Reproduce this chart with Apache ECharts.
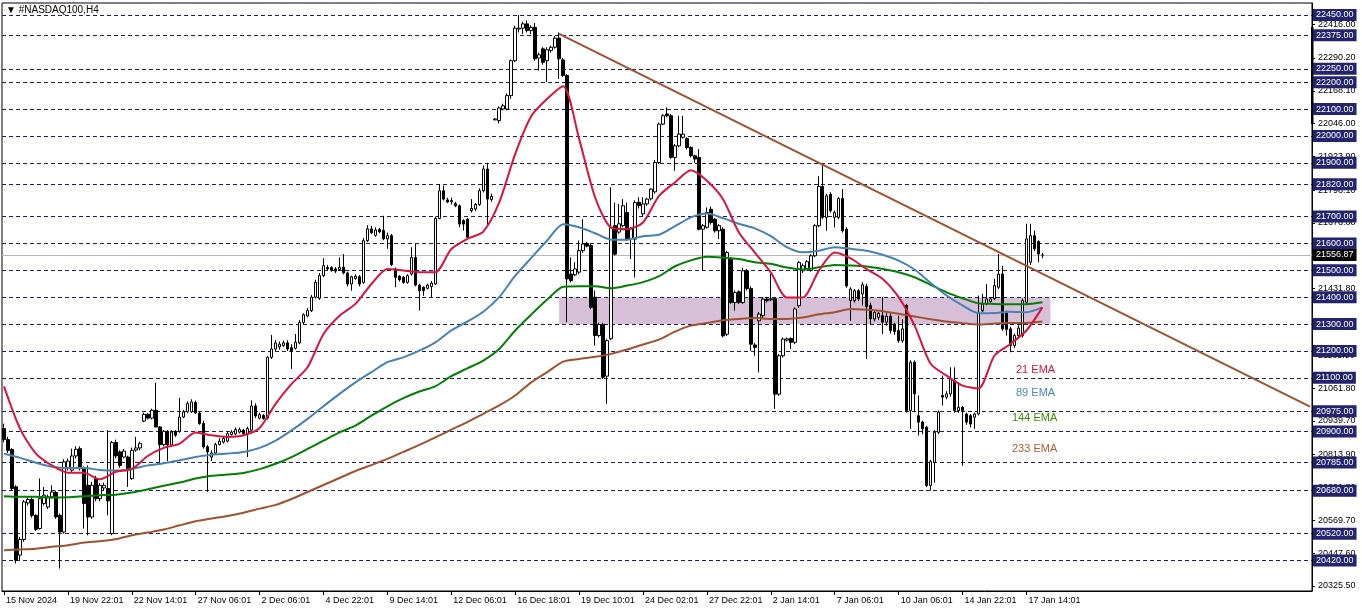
<!DOCTYPE html>
<html><head><meta charset="utf-8">
<script src="https://cdn.jsdelivr.net/npm/echarts@6/dist/echarts.min.js"></script>
<style>html,body{margin:0;padding:0;background:#fff}#c{width:1362px;height:611px}</style>
</head><body><div id="c"></div>
<script>
// ---- tick labels (every 16 bars) ----
const tickLabels = ["15 Nov 2024","19 Nov 22:01","22 Nov 14:01","27 Nov 06:01","2 Dec 06:01","4 Dec 22:01","9 Dec 14:01","12 Dec 06:01","16 Dec 18:01","19 Dec 10:01","24 Dec 02:01","27 Dec 22:01","2 Jan 14:01","7 Jan 06:01","10 Jan 06:01","14 Jan 22:01","17 Jan 14:01"];
const tickEvery = 16;
const barSlots = 328;

// ---- OHLC (H4 bars) ----
const opens = [20911,20870,20833,20694,20440,20498,20634,20647,20588,20539,20632,20619,20657,20673,20588,20526,20762,20756,20809,20836,
20762,20700,20582,20725,20650,20690,20688,20520,20859,20824,20805,20805,20725,20831,20839,20939,20964,20950,20979,20917,
20851,20901,20850,20901,20901,20954,20973,20973,21008,20969,20930,20843,20805,20820,20852,20861,20864,20889,20891,20898,
20905,20892,20905,20995,20950,20960,20950,21176,21207,21215,21220,21230,21212,21210,21230,21306,21330,21350,21400,21396,
21480,21510,21510,21505,21503,21512,21490,21449,21470,21476,21455,21610,21654,21630,21652,21648,21617,21629,21505,21478,
21474,21455,21486,21548,21445,21437,21433,21440,21449,21693,21796,21762,21755,21748,21740,21685,21690,21722,21728,21745,
21796,21877,21763,22060,22057,22100,22100,22150,22280,22398,22401,22417,22392,22404,22290,22324,22280,22318,22330,22364,
22283,22225,21486,21483,21493,21573,21600,21592,21400,21257,21298,21106,21245,21666,21642,21666,21715,21617,21616,21753,
21710,21747,21766,21792,21901,22044,22082,22075,21920,21963,21995,21990,21957,21926,21920,21653,21660,21727,21690,21647,
21653,21262,21542,21380,21420,21380,21498,21432,21222,21312,21331,21393,21390,21394,21039,21182,21240,21246,21232,21368,
21498,21504,21500,21554,21666,21812,21697,21783,21697,21697,21767,21653,21387,21387,21424,21412,21440,21369,21319,21325,
21331,21307,21329,21300,21276,21238,21369,20978,21158,20959,20935,20916,20699,20785,20897,21034,21028,21040,21090,20978,
20990,20965,20959,20953,20965,21350,21375,21384,21394,21437,21486,21344,21282,21220,21257,21257,21381,21530,21629,21607,
21557];
const highs = [20929,20880,20838,20700,20508,20645,20655,20655,20592,20725,20694,20665,20700,20680,20595,20797,20800,20836,20845,20845,
20770,20774,20712,20735,20708,20710,20905,20865,20870,20830,20835,20810,20840,20880,20862,20970,20968,20985,21082,20920,
20905,20905,20905,20905,21025,20980,21012,21020,21015,20975,20940,20850,20830,20858,20875,20880,20900,20905,20915,20915,
20910,20918,21016,21005,20970,20965,21180,21259,21240,21235,21238,21240,21225,21263,21315,21340,21360,21408,21465,21490,
21545,21520,21515,21512,21548,21560,21495,21480,21485,21482,21620,21668,21665,21660,21658,21703,21640,21635,21510,21482,
21478,21485,21586,21598,21450,21440,21450,21460,21700,21821,21815,21770,21770,21755,21745,21690,21695,21765,21750,21805,
21890,21900,21785,22066,22110,22120,22158,22285,22410,22450,22425,22430,22412,22420,22310,22330,22330,22336,22372,22385,
22290,22230,21548,21530,21611,21690,21605,21600,21425,21305,21305,21245,21809,21752,21747,21765,21752,21660,21760,21772,
21772,21770,21805,21910,22050,22082,22106,22082,21970,22075,22075,21995,21962,21930,21951,21672,21734,21737,21695,21672,
21660,21572,21548,21425,21425,21510,21505,21440,21230,21345,21400,21400,21486,21400,21188,21250,21250,21250,21362,21535,
21525,21538,21560,21672,21850,21895,21785,21790,21722,21773,21802,21660,21437,21430,21430,21456,21450,21380,21350,21345,
21400,21340,21340,21305,21331,21319,21375,21165,21165,21034,20940,20920,20795,20905,20978,21108,21050,21139,21139,21083,
20995,20970,20965,20970,21406,21412,21449,21400,21468,21561,21517,21350,21290,21265,21295,21395,21673,21673,21648,21612,
21565];
const lows = [20860,20820,20682,20409,20421,20490,20625,20580,20530,20535,20625,20612,20650,20575,20390,20520,20755,20750,20800,20755,
20539,20514,20575,20640,20640,20680,20588,20514,20800,20765,20800,20694,20720,20825,20830,20935,20945,20945,20915,20787,
20845,20790,20845,20880,20895,20950,20968,20970,20965,20925,20836,20675,20790,20815,20848,20855,20860,20885,20885,20893,
20888,20805,20900,20950,20945,20944,20945,21170,21200,21205,21215,21200,21133,21205,21225,21300,21325,21345,21395,21390,
21475,21500,21495,21490,21498,21485,21440,21424,21465,21440,21450,21605,21635,21625,21638,21612,21580,21515,21437,21458,
21450,21450,21480,21440,21350,21405,21428,21400,21445,21690,21760,21750,21745,21735,21660,21648,21618,21715,21720,21740,
21790,21666,21755,22058,22047,22095,22095,22138,22275,22385,22380,22385,22380,22280,22243,22265,22200,22310,22325,22212,
22220,21307,21455,21478,21485,21565,21585,21355,21220,21250,21095,21003,21240,21555,21636,21660,21610,21542,21473,21730,
21700,21740,21760,21785,21895,22040,22070,21915,21870,21958,21990,21950,21920,21900,21648,21498,21655,21670,21640,21616,
21250,21255,21375,21350,21375,21375,21425,21200,21182,21120,21320,21380,21385,20984,21033,21175,21235,21207,21225,21360,
21490,21500,21495,21548,21660,21690,21647,21715,21660,21690,21640,21435,21312,21380,21385,21369,21170,21300,21310,21315,
21263,21294,21265,21260,21230,21230,20970,20910,20972,20885,20890,20693,20680,20710,20890,20997,21020,21030,20970,20970,
20773,20925,20915,20910,20960,21345,21370,21380,21390,21430,21275,21257,21195,21210,21250,21250,21375,21520,21572,21530,
21545];
const closes = [20870,20830,20688,20421,20498,20638,20647,20588,20536,20650,20663,20657,20675,20582,20526,20787,20790,20809,20834,20762,
20632,20582,20700,20650,20700,20700,20642,20859,20809,20774,20827,20762,20830,20839,20855,20964,20950,20979,20917,20851,
20901,20851,20898,20886,20954,20973,21004,21010,20969,20930,20843,20824,20820,20852,20864,20874,20892,20898,20907,20907,
20892,20911,20995,20958,20963,20948,21176,21207,21230,21225,21230,21207,21200,21232,21306,21335,21350,21400,21455,21480,
21517,21505,21500,21497,21511,21490,21449,21476,21478,21449,21610,21654,21640,21650,21643,21617,21629,21521,21474,21465,
21455,21480,21548,21445,21424,21424,21445,21452,21693,21796,21765,21754,21760,21740,21672,21672,21623,21730,21745,21796,
21877,21765,21775,22063,22104,22112,22150,22280,22401,22401,22417,22392,22404,22287,22302,22274,22321,22330,22364,22287,
22225,21468,21462,21505,21573,21598,21590,21362,21257,21298,21102,21238,21660,21560,21673,21740,21616,21654,21752,21741,
21747,21765,21802,21901,22044,22075,22075,21920,21963,22007,22007,21957,21926,21914,21653,21666,21715,21678,21647,21666,
21256,21566,21380,21417,21380,21498,21432,21225,21213,21337,21393,21387,21394,21039,21182,21244,21245,21232,21356,21529,
21517,21532,21554,21666,21812,21697,21777,21722,21715,21767,21647,21442,21430,21424,21393,21446,21365,21319,21344,21340,
21307,21329,21276,21272,21238,21282,20978,21158,21040,20935,20910,20699,20788,20897,20972,21028,21040,21096,20978,20990,
20978,20935,20928,20965,21344,21375,21393,21394,21443,21486,21282,21280,21220,21257,21285,21387,21617,21629,21580,21561,
21556.87];

// ---- EMAs, read every 4th bar ----
const emaStep = 4;
const ema21 = [21068,20911,20818,20774,20747,20747,20722,20750,20760,20809,20839,20855,20896,20886,20880,20886,20913,21003,21077,21139,
21263,21331,21375,21449,21505,21499,21493,21493,21579,21617,21644,21753,21933,22073,22138,22185,21989,21771,21659,21653,
21678,21777,21827,21872,21833,21765,21641,21566,21492,21399,21399,21498,21566,21544,21504,21468,21400,21294,21152,21108,
21071,21060,21183,21226,21276,21362];
const ema89 = [20817,20802,20784,20769,20764,20764,20757,20755,20761,20774,20782,20793,20805,20814,20818,20824,20839,20866,20904,20947,
20994,21040,21083,21121,21158,21176,21201,21232,21276,21309,21346,21400,21480,21546,21611,21671,21660,21638,21614,21614,
21627,21632,21664,21697,21711,21694,21673,21656,21627,21586,21567,21573,21586,21580,21573,21558,21536,21503,21453,21406,
21369,21340,21341,21346,21344,21362];
const ema144 = [20659,20657,20657,20654,20655,20659,20663,20665,20673,20685,20698,20710,20725,20735,20740,20746,20760,20780,20805,20835,
20866,20897,20922,20959,20994,21024,21049,21068,21106,21135,21164,21207,21276,21335,21391,21439,21441,21441,21433,21443,
21456,21478,21515,21537,21550,21547,21542,21530,21524,21510,21503,21511,21520,21518,21514,21505,21493,21474,21446,21418,
21396,21377,21375,21374,21374,21381];
const ema233 = [20458,20461,20464,20471,20477,20487,20492,20499,20514,20524,20535,20551,20566,20576,20586,20598,20613,20627,20649,20675,
20701,20727,20753,20775,20798,20824,20850,20878,20907,20935,20966,20997,21034,21083,21121,21160,21170,21178,21189,21205,
21224,21242,21272,21294,21304,21314,21319,21322,21319,21319,21324,21336,21344,21356,21353,21348,21338,21328,21318,21309,
21303,21298,21302,21304,21304,21309];

// ---- levels / annotations ----
const levels = [22450,22375,22250,22200,22100,22000,21900,21820,21700,21600,21500,21400,21300,21200,21100,20975,20900,20785,20680,20520,20420];
const lastPrice = 21556.87;
const scaleLabels = [22416.00,22290.20,22168.10,22046.00,21923.90,21798.10,21676.00,21553.90,21431.80,21309.70,21183.90,21061.80,20939.70,20813.90,20691.80,20569.70,20447.60,20325.50];
const zone = {start:139, end:262, top:21400, bottom:21300};
const trend = {x1:139, y1:22380, x2:327, y2:20993};
const emaNames = ["21 EMA","89 EMA","144 EMA","233 EMA"];

// ---- build ----
const FONT = 'Liberation Sans';
const categories = [];
for (let i = 0; i < barSlots; i++) {
  const t = (i % tickEvery === 0) ? tickLabels[i / tickEvery] : undefined;
  categories.push(t === undefined ? '' : t);
}
const candles = opens.map((o, i) => [o, closes[i], lows[i], highs[i]]);
function spread(arr) {
  const out = new Array(opens.length).fill(null);
  arr.forEach((v, j) => { out[j * emaStep] = v; });
  return out;
}
const lblStyle = {show:true, position:'end', distance:1, formatter:p=>p.value.toFixed(2), color:'#fff',
  backgroundColor:'#23236e', padding:[1,3,1,3], fontSize:9, fontFamily:FONT, lineHeight:10};
const levelLines = levels.map(v => ({yAxis:v, lineStyle:{color:'#1c1c78', type:[4,3], width:1}, label:lblStyle}));
levelLines.push({yAxis:lastPrice, lineStyle:{color:'#b8b8b8', type:'solid', width:1},
  label:Object.assign({}, lblStyle, {backgroundColor:'#000'})});

const isTick = (idx) => idx % tickEvery === 0 && idx / tickEvery < tickLabels.length;
const emaLine = (name, arr, color) => ({type:'line', name, data:spread(arr), connectNulls:true, showSymbol:false,
  smooth:0.25, z:3, lineStyle:{color, width:2}});

const chart = echarts.init(document.getElementById('c'), null, {renderer:'canvas'});
const e21 = emaLine(emaNames[0], ema21, '#dc143c');
e21.markLine = {silent:true, z:5, symbol:'none', animation:false, label:{show:false},
  lineStyle:{color:'#a0522d', width:2, type:'solid'},
  data:[[{coord:[trend.x1, trend.y1]},{coord:[trend.x2, trend.y2]}]]};
chart.setOption({
  animation:false,
  backgroundColor:'#fff',
  grid:{left:2, right:50, top:3, bottom:20, show:true, borderColor:'#000', borderWidth:1, backgroundColor:'transparent'},
  xAxis:{type:'category', data:categories, boundaryGap:true,
    axisLine:{lineStyle:{color:'#000', width:1}},
    axisTick:{show:true, alignWithLabel:true, interval:(idx)=>isTick(idx), length:4, lineStyle:{color:'#000'}},
    axisLabel:{interval:(idx)=>isTick(idx), align:'left', margin:5, padding:[0,0,0,2], color:'#000', fontSize:9, fontFamily:FONT},
    splitLine:{show:false}},
  yAxis:{type:'value', position:'right', min:20306.5, max:22494.7, scale:true,
    axisLine:{show:true, lineStyle:{color:'#000', width:1}},
    axisTick:{show:true, customValues:scaleLabels, length:3, lineStyle:{color:'#000'}},
    axisLabel:{customValues:scaleLabels, formatter:v=>Number(v).toFixed(2), margin:6, color:'#000', fontSize:9, fontFamily:FONT},
    splitLine:{show:false}},
  graphic:[
    {type:'text', left:6, top:5, style:{text:'\u25BC #NASDAQ100,H4', fill:'#000', font:'10px "Liberation Sans"'}},
    {type:'rect', shape:{x:1311, y:27, width:2.5, height:97}, style:{fill:'#000'}},
    {type:'text', left:1016, top:364, style:{text:emaNames[0], fill:'#dc143c', font:'11px "Liberation Sans"'}},
    {type:'text', left:1016, top:387, style:{text:emaNames[1], fill:'#4a86c0', font:'11px "Liberation Sans"'}},
    {type:'text', left:1012, top:412, style:{text:emaNames[2], fill:'#3c8c00', font:'11px "Liberation Sans"'}},
    {type:'text', left:1012, top:443, style:{text:emaNames[3], fill:'#b0603a', font:'11px "Liberation Sans"'}}
  ],
  series:[
    {type:'line', name:'bg', data:[], silent:true, z:1,
      markArea:{silent:true, z:1, itemStyle:{color:'#d8bfd8'},
        data:[[{xAxis:zone.start, yAxis:zone.top},{xAxis:zone.end, yAxis:zone.bottom}]]},
      markLine:{silent:true, z:1, symbol:'none', animation:false, data:levelLines}},
    {type:'candlestick', name:'NASDAQ100', data:candles, barWidth:3, z:2,
      itemStyle:{color:'#fff', color0:'#000', borderColor:'#000', borderColor0:'#000', borderWidth:1}},
    emaLine(emaNames[3], ema233, '#a0522d'),
    emaLine(emaNames[2], ema144, '#008000'),
    emaLine(emaNames[1], ema89, '#4682b4'),
    e21
  ]
});
</script></body></html>
